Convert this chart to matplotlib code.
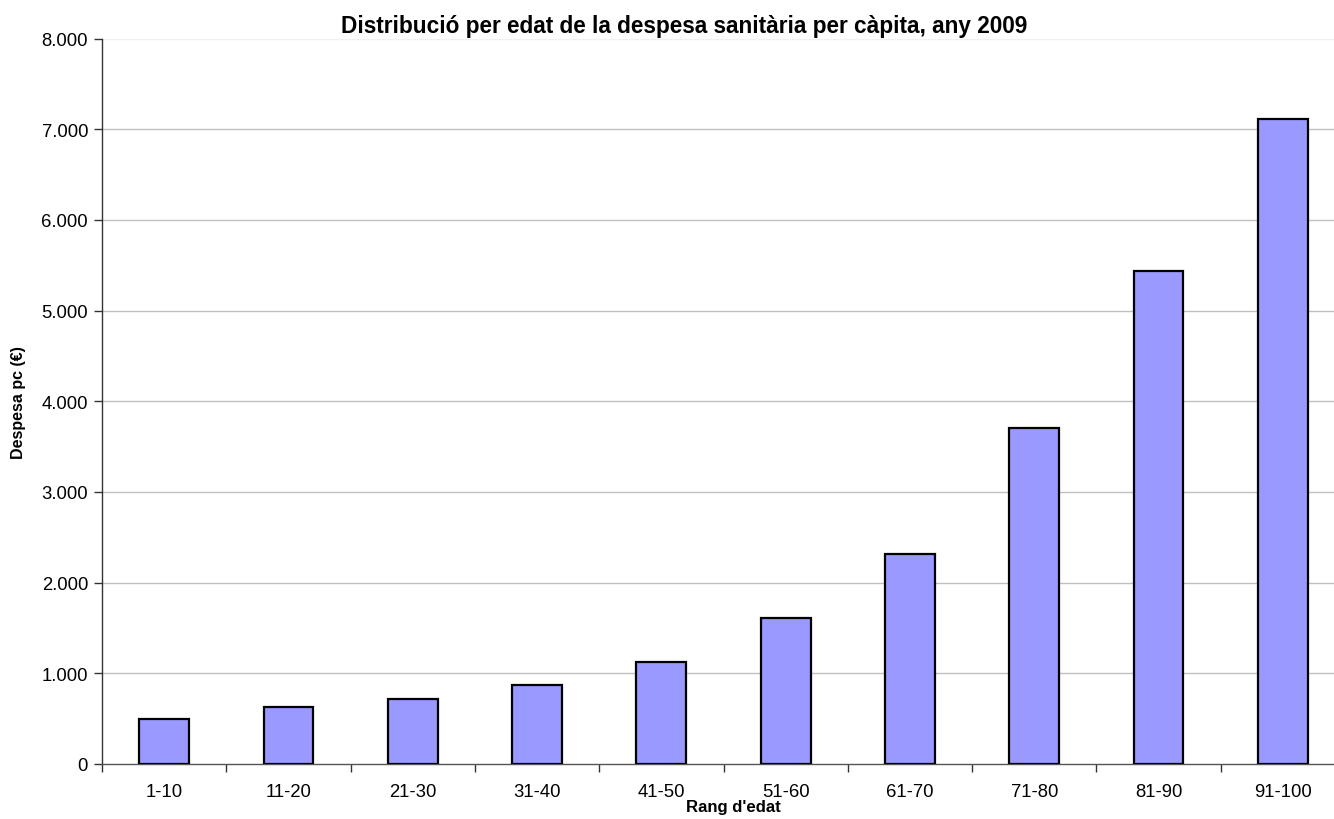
import matplotlib
matplotlib.use("Agg")
import matplotlib.pyplot as plt
import numpy as np

categories = ["1-10", "11-20", "21-30", "31-40", "41-50", "51-60", "61-70", "71-80", "81-90", "91-100"]
values = [500, 630, 720, 870, 1120, 1610, 2315, 3705, 5440, 7115]
yticks = [0, 1000, 2000, 3000, 4000, 5000, 6000, 7000, 8000]
ytick_labels = ["0", "1.000", "2.000", "3.000", "4.000", "5.000", "6.000", "7.000", "8.000"]

plt.rcParams['font.family'] = ['Liberation Sans', 'DejaVu Sans']

W, H = 1334, 820
fig = plt.figure(figsize=(W / 100, H / 100), dpi=100)
left, right, top, bottom = 102, 1345, 39.5, 765
ax = fig.add_axes([left / W, 1 - bottom / H, (right - left) / W, (bottom - top) / H])

x = np.arange(len(categories))
ax.bar(x, values, width=0.4, color="#9999FF", edgecolor="black", linewidth=1.6, zorder=3)

ax.set_xlim(-0.5, len(categories) - 0.5)
ax.set_ylim(0, 8000)
ax.set_yticks(yticks)
ax.set_yticklabels(ytick_labels, fontsize=13.3)
for yv in yticks[1:-1]:
    ax.axhline(yv, color="#c0c0c0", linewidth=1.0, zorder=1)
ax.axhline(8000, color="#f0f0f0", linewidth=1.0, zorder=1)

ax.set_xticks(x)
ax.set_xticklabels(categories, fontsize=13.3)
ax.tick_params(axis="x", length=0, pad=14)
ax.set_xticks(np.arange(-0.5, len(categories), 1.0), minor=True)
ax.tick_params(axis="x", which="minor", length=6, width=1, color="#333333", direction="out")
ax.tick_params(axis="y", length=6, width=1, color="#333333", direction="out", pad=4)

for s in ["top", "right"]:
    ax.spines[s].set_visible(False)
ax.spines["left"].set_color("#333333")
ax.spines["bottom"].set_color("#555555")
ax.spines["left"].set_linewidth(1.0)
ax.spines["bottom"].set_linewidth(1.0)

fig.text(684 / W, 1 - 27 / H, "Distribució per edat de la despesa sanitària per càpita, any 2009",
         ha="center", va="center", fontsize=16.3, fontweight="bold")
fig.text(733 / W, 1 - 808 / H, "Rang d'edat", ha="center", va="center", fontsize=12.1, fontweight="bold")
fig.text(19 / W, 1 - 403 / H, "Despesa pc (€)", ha="center", va="center", rotation=90,
         fontsize=11.5, fontweight="bold")

fig.savefig("out.png", dpi=100)
